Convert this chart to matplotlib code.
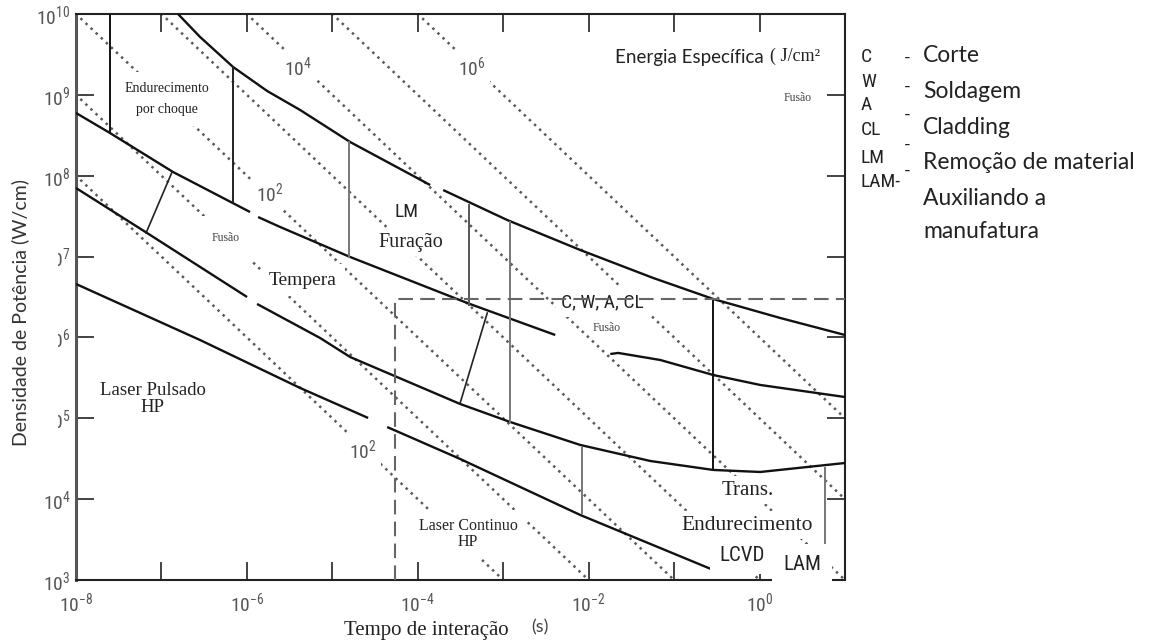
import numpy as np
import matplotlib
matplotlib.use("Agg")
import matplotlib.pyplot as plt
from matplotlib import font_manager
from matplotlib.patches import Rectangle

# Boundaries of the process regions, as log10(time [s]) / log10(power density [W/cm2]).
# NaN marks a break in the drawn line.
nan = np.nan
upper_logt = [-6.806, -6.548, -6.162, -5.763, -5.377, -4.792, -3.855, nan,
              -3.703, -2.953, -2.098, -1.244, -0.541, 0.244, 1.0]
upper_logp = [10.0, 9.716, 9.345, 9.048, 8.813, 8.417, 7.885, nan,
              7.823, 7.452, 7.081, 6.735, 6.475, 6.240, 6.030]

shock_logt = [-8.0, -7.602, -6.864, -5.963, nan, -5.869, -5.611, -4.792, -3.422, -2.391]
shock_logp = [8.776, 8.528, 8.046, 7.551, nan, 7.489, 7.366, 6.995, 6.426, 6.030]

melt_logt = [-8.0, -7.169, -5.998, nan, -5.881, -5.143, -4.792, -3.504, -2.918,
             -2.098, -1.279, -0.541, 0.009, 1.0]
melt_logp = [7.848, 7.292, 6.500, nan, 6.414, 5.993, 5.758, 5.177, 4.954,
             4.670, 4.472, 4.361, 4.336, 4.447]

pulsed_logt = [-8.0, -6.548, -5.377, -4.581, nan, -4.358, -3.504, -2.098, -0.541]
pulsed_logp = [6.661, 5.968, 5.375, 5.004, nan, 4.892, 4.497, 3.804, 3.124]

weld_logt = [-1.747, -1.653, -1.162, -0.541, 0.009, 1.0]
weld_logp = [5.795, 5.808, 5.721, 5.535, 5.412, 5.263]

# vertical separators: time, top, bottom, colour
vert_logt = [-7.602, -6.162, -4.803, -3.398, -2.918, -0.541, -2.075, 0.770]
vert_top = [10.0, 9.345, 8.42, 7.638, 7.428, 6.475, 4.633, 4.385]
vert_bot = [8.528, 7.675, 6.995, 6.401, 4.954, 4.361, 3.829, 3.458]
vert_col = ["#111", "#222", "#777", "#555", "#777", "#111", "#777", "#777"]

# slanted separators
slant_logt = [(-6.876, -7.180), (-3.187, -3.504)]
slant_logp = [(8.046, 7.292), (6.302, 5.189)]

# continuous-laser window corner
cw_logt, cw_logp = -4.265, 6.475

# iso-energy lines P * t = 10^e  (J/cm2)
energy_exp = [0, 1, 2, 3, 4, 5, 6]

codes = ["C", "W", "A", "CL", "LM", "LAM-"]
meanings = ["Corte", "Soldagem", "Cladding", "Remoção de material", "Auxiliando a", "manufatura"]

# fonts
names = {f.name for f in font_manager.fontManager.ttflist}
NARROW = next((n for n in ["Liberation Sans Narrow", "Roboto Condensed", "Open Sans Condensed"]
               if n in names), "Liberation Sans")
SERIF = "Liberation Serif"
SANS = "Lato"
plt.rcParams["mathtext.fontset"] = "custom"
plt.rcParams["mathtext.rm"] = NARROW
plt.rcParams["mathtext.it"] = NARROW
plt.rcParams["mathtext.bf"] = NARROW

W, H = 1160, 644
fig = plt.figure(figsize=(W / 100, H / 100), dpi=100)
ax = fig.add_axes([76 / W, 64 / H, 769 / W, 566 / H])
ax.set_xscale("log")
ax.set_yscale("log")
ax.set_xlim(1e-8, 1e1)
ax.set_ylim(1e3, 1e10)


def draw(lt, lp, **kw):
    ax.plot(10.0 ** np.asarray(lt, float), 10.0 ** np.asarray(lp, float), **kw)


# dotted iso-energy lines
tt = np.array([1e-9, 1e2])
for e in energy_exp:
    ax.plot(tt, 10.0 ** e / tt, color="#5a5a5a", lw=1.8, ls=(0, (1, 1.8)),
            dash_capstyle="butt", zorder=1)

# main boundaries
for lt, lp in [(upper_logt, upper_logp), (shock_logt, shock_logp), (melt_logt, melt_logp),
               (pulsed_logt, pulsed_logp), (weld_logt, weld_logp)]:
    draw(lt, lp, color="#111", lw=1.7, zorder=3, solid_capstyle="butt")

for x, y0, y1, c in zip(vert_logt, vert_top, vert_bot, vert_col):
    draw([x, x], [y0, y1], color=c, lw=1.4, zorder=3)

for lt, lp in zip(slant_logt, slant_logp):
    draw(lt, lp, color="#222", lw=1.2, zorder=3)

# dashed window of continuous lasers
draw([cw_logt, cw_logt, 1.0], [3.0, cw_logp, cw_logp], color="#666", lw=1.5,
     ls=(0, (7, 3.5)), zorder=3)

# axes styling
ax.xaxis.set_minor_locator(matplotlib.ticker.NullLocator())
ax.yaxis.set_minor_locator(matplotlib.ticker.NullLocator())
xt = [10.0 ** k for k in range(-8, 1)]
ax.set_xticks(xt)
ax.set_xticklabels([f"$10^{{{k}}}$" if k % 2 == 0 else "" for k in range(-8, 1)])
yt = [10.0 ** k for k in range(3, 11)]
ax.set_yticks(yt)
ax.set_yticklabels([f"$10^{{{k}}}$" for k in range(3, 11)])
ax.tick_params(direction="in", length=13, width=1.2, top=True, right=True,
               color="#222", labelsize=14, labelcolor="#555")
ax.tick_params(axis="x", pad=8)
ax.tick_params(axis="y", pad=4)
for s in ax.spines.values():
    s.set_linewidth(1.5)
    s.set_color("#222")
ax.spines["left"].set_color("#555")
ax.spines["left"].set_linewidth(2.2)

box = lambda p: dict(boxstyle=f"square,pad={p}", fc="white", ec="none")


def label(txt, fx, fy, family, size, pad=0.2, color="#222", z=2, **kw):
    ax.text(fx, fy, txt, transform=ax.transAxes, ha="center", va="center",
            family=family, fontsize=size, color=color, bbox=box(pad), zorder=z, **kw)


label("Endurecimento\npor choque", 0.118, 0.850, SERIF, 10, pad=0.7, linespacing=1.8)
label("$10^4$", 0.289, 0.906, NARROW, 14, color="#555")
label("$10^6$", 0.515, 0.906, NARROW, 14, color="#555")
label("$10^2$", 0.252, 0.684, NARROW, 14, color="#555")
label("$10^2$", 0.373, 0.230, NARROW, 14, color="#555")
label("Fusão", 0.194, 0.604, SERIF, 8.5, pad=1.4, color="#444")
label("Tempera", 0.295, 0.530, SERIF, 14, pad=0.4)
label("LM", 0.430, 0.650, NARROW, 14)
label("Furação", 0.436, 0.597, SERIF, 14.5, pad=0.2)
label("C, W, A, CL", 0.685, 0.491, NARROW, 14, pad=0.3)
label("Fusão", 0.690, 0.445, SERIF, 8.5, color="#444")
label("Fusão", 0.938, 0.852, SERIF, 8.5, color="#444")
label("Laser Pulsado\nHP", 0.100, 0.320, SERIF, 13.5, linespacing=1.0)
label("Laser Continuo\nHP", 0.510, 0.081, SERIF, 11.5, pad=0.5, linespacing=1.0)
label("Trans.", 0.873, 0.159, SERIF, 15)
label("Endurecimento", 0.873, 0.097, SERIF, 15.5)
label("LCVD", 0.866, 0.044, NARROW, 15, pad=0.45, z=4)
label("LAM", 0.944, 0.027, NARROW, 15, pad=0.55, z=4)

ax.text(0.701, 0.924, "Energia Específica", transform=ax.transAxes, ha="left", va="center",
        family=SANS, fontsize=13.5, color="#222")
ax.text(0.9025, 0.926, "( J/cm²", transform=ax.transAxes, ha="left", va="center",
        family=SERIF, fontsize=13, color="#222")

# axis titles
fig.add_artist(Rectangle((33 / W, 1 - 470 / H), 25 / W, 270 / H, transform=fig.transFigure,
                         fc="white", ec="none", zorder=2))
fig.text(20 / W, 1 - 312 / H, "Densidade de Potência (W/cm)", rotation=90, ha="center",
         va="center", family=SANS, fontsize=14, color="#333", zorder=3)
fig.text(426 / W, 1 - 630 / H, "Tempo de interação", ha="center", va="center",
         family=SERIF, fontsize=15, color="#222")
fig.text(540 / W, 1 - 627 / H, "(s)", ha="center", va="center", family=SANS,
         fontsize=13, color="#444")

# abbreviation key
code_y = [57, 82, 105, 130, 158, 182]
dash_y = [58, 87, 115, 145, 171]
text_y = [56, 92, 128, 163, 199, 232]
for c, y in zip(codes, code_y):
    fig.text(861 / W, 1 - y / H, c, ha="left", va="center", family=NARROW,
             fontsize=14, color="#222")
for y in dash_y:
    fig.text(907 / W, 1 - y / H, "-", ha="center", va="center", family=SANS,
             fontsize=13, color="#222")
for m, y in zip(meanings, text_y):
    fig.text(923 / W, 1 - y / H, m, ha="left", va="center", family=SANS,
             fontsize=16.5, color="#222")

fig.savefig("out.png", dpi=100, facecolor="white")
